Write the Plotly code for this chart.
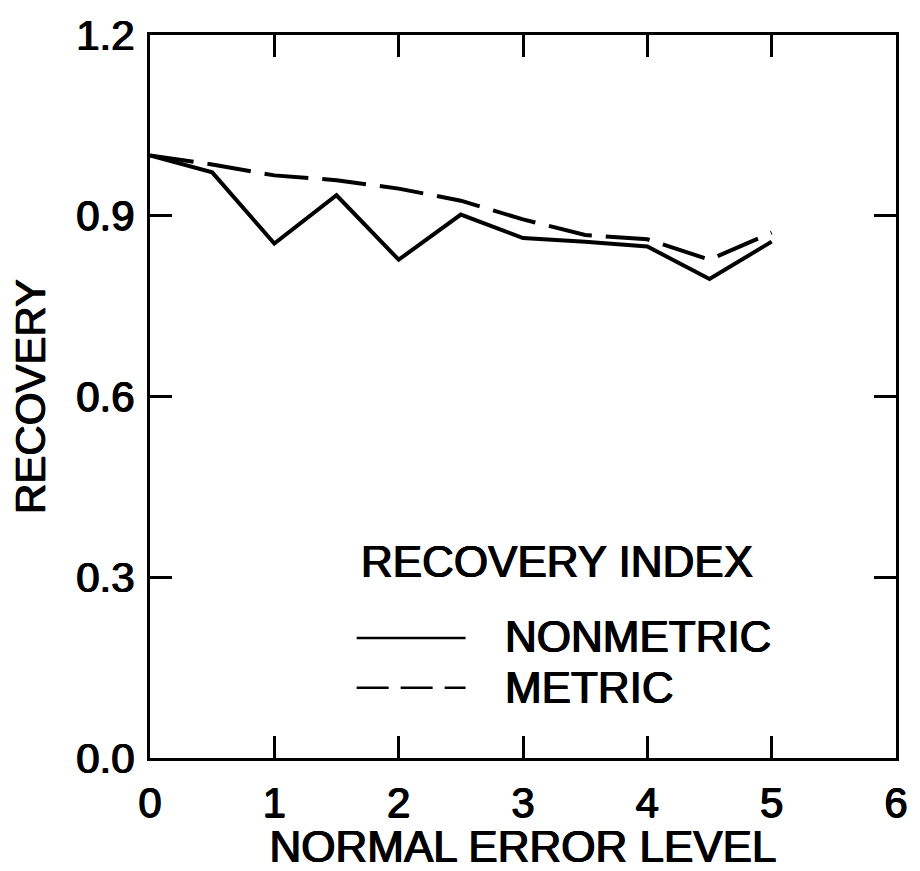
import plotly.graph_objects as go

# Recovery of the configuration as the normal error level increases
error_level = [0, 0.5, 1, 1.5, 2, 2.5, 3, 3.5, 4, 4.5, 5]
nonmetric = [1.000, 0.972, 0.854, 0.934, 0.827, 0.902, 0.863, 0.857, 0.849, 0.795, 0.857]
metric = [1.000, 0.985, 0.967, 0.959, 0.945, 0.925, 0.894, 0.868, 0.861, 0.827, 0.872]

x_ticks = [0, 1, 2, 3, 4, 5, 6]
y_ticks = [0.0, 0.3, 0.6, 0.9, 1.2]

FONT = "Liberation Sans, Arial, sans-serif"
INK = "#000000"
# slight outline so the lettering reads a little heavier than the regular face
HEAVY = "0.7px 0 0 #000, -0.7px 0 0 #000, 0 0.4px 0 #000"


def text_font(size):
    return dict(family=FONT, size=size, color=INK, shadow=HEAVY)


fig = go.Figure()
fig.add_trace(go.Scatter(
    x=error_level, y=nonmetric, mode="lines", name="NONMETRIC",
    line=dict(color=INK, width=4),
))
fig.add_trace(go.Scatter(
    x=error_level, y=metric, mode="lines", name="METRIC",
    line=dict(color=INK, width=4, dash="44px,14px"),
))

axis_common = dict(
    showgrid=False, zeroline=False,
    showline=True, linecolor=INK, linewidth=3, mirror="ticks",
    ticks="inside", ticklen=22, tickwidth=2.5, tickcolor=INK,
    tickfont=text_font(42),
)

fig.update_xaxes(
    range=[0, 6], tickvals=x_ticks, ticktext=[str(v) for v in x_ticks],
    title=dict(text="NORMAL ERROR LEVEL", font=text_font(44), standoff=2),
    ticklabelstandoff=6,
    **axis_common,
)
fig.update_yaxes(
    range=[0, 1.2], tickvals=y_ticks, ticktext=[f"{v:.1f}" for v in y_ticks],
    title=dict(text="RECOVERY", font=text_font(42), standoff=18),
    ticklabelstandoff=4,
    **axis_common,
)

# Legend block drawn inside the plotting area
legend_x0, legend_x1 = 0.277, 0.423
fig.add_annotation(x=0.280, y=0.272, xref="paper", yref="paper", text="RECOVERY INDEX",
                   showarrow=False, xanchor="left", yanchor="middle", font=text_font(44))
fig.add_annotation(x=0.473, y=0.168, xref="paper", yref="paper", text="NONMETRIC",
                   showarrow=False, xanchor="left", yanchor="middle", font=text_font(44))
fig.add_annotation(x=0.473, y=0.097, xref="paper", yref="paper", text="METRIC",
                   showarrow=False, xanchor="left", yanchor="middle", font=text_font(44))
fig.add_shape(type="line", xref="paper", yref="paper",
              x0=legend_x0, x1=legend_x1, y0=0.166, y1=0.166,
              line=dict(color=INK, width=2.5))
fig.add_shape(type="line", xref="paper", yref="paper",
              x0=legend_x0, x1=legend_x1, y0=0.097, y1=0.097,
              line=dict(color=INK, width=2.5, dash="32px,12px"))

fig.update_layout(
    width=920, height=871,
    margin=dict(l=150, r=17, t=33, b=111),
    paper_bgcolor="white", plot_bgcolor="white",
    showlegend=False,
    font=dict(family=FONT, color=INK),
)

fig.write_html("out.html")
